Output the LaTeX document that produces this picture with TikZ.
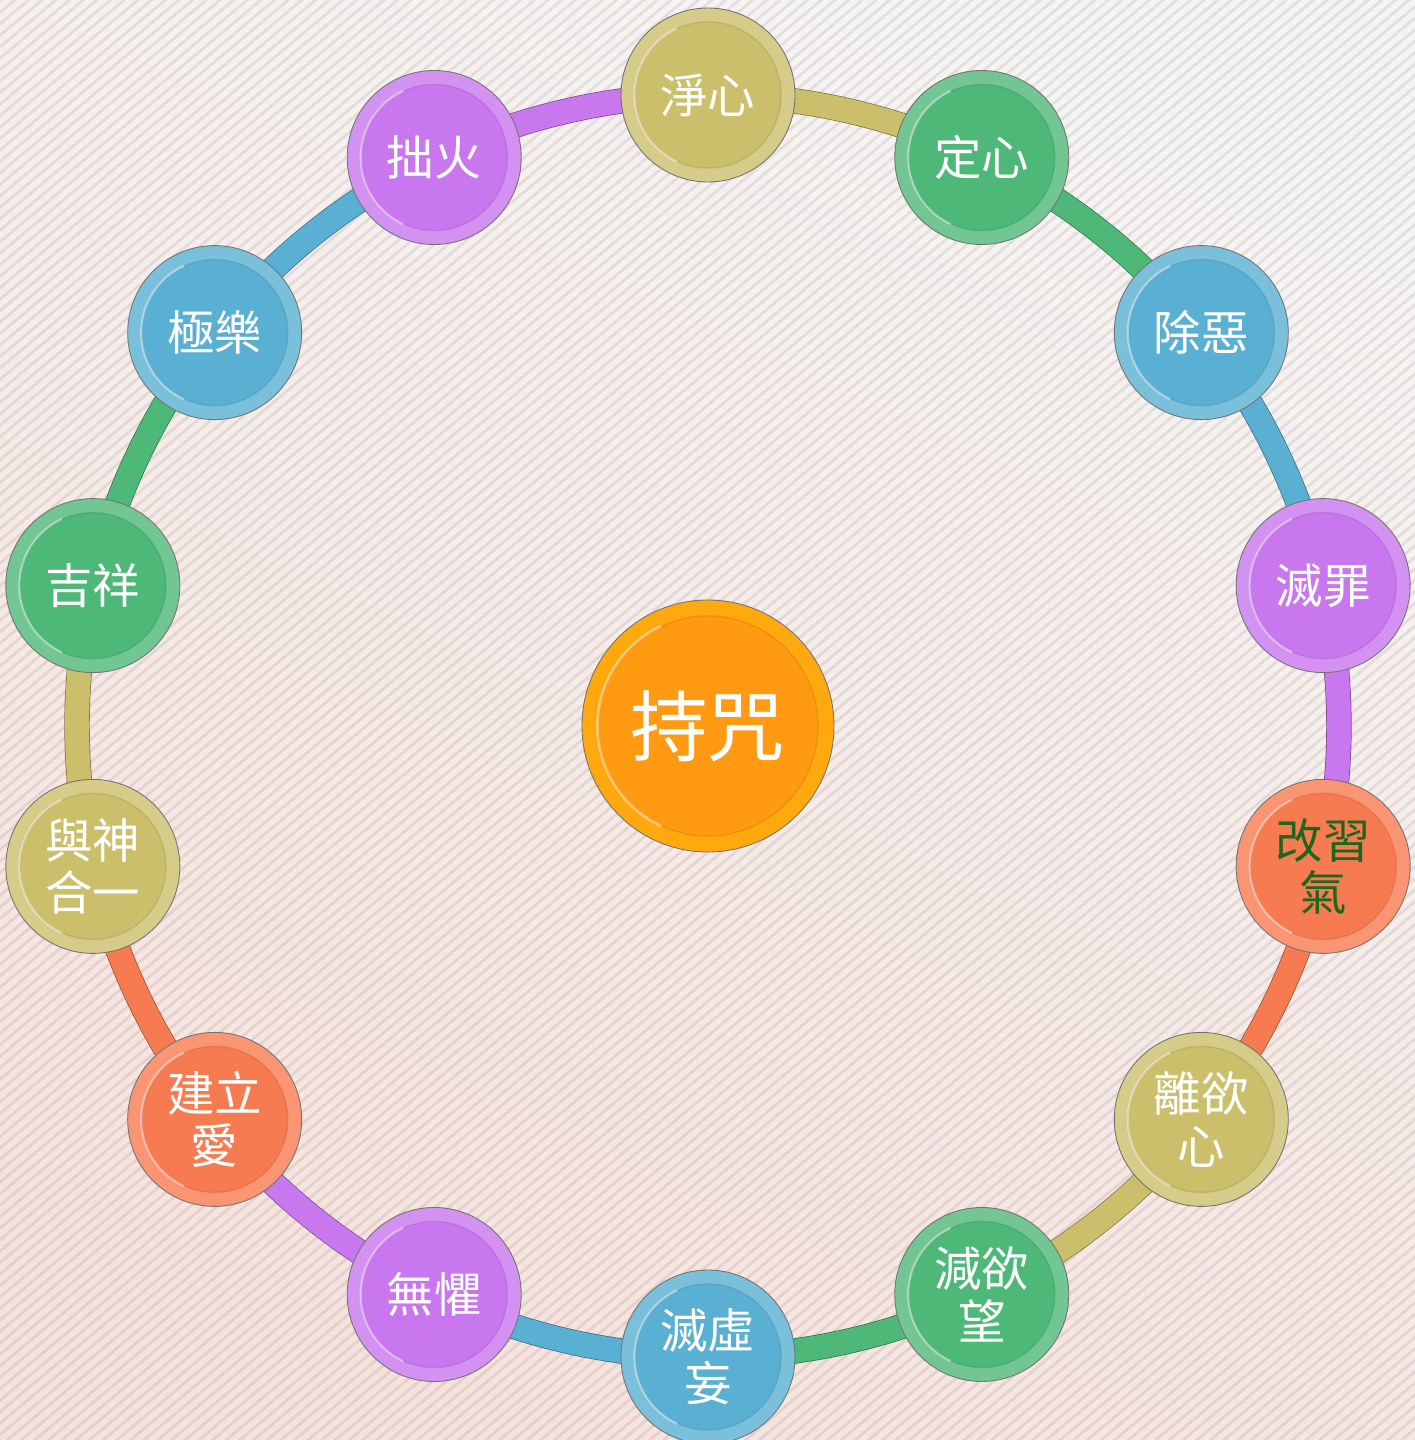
\documentclass[tikz,border=0pt]{standalone}
\usepackage{fontspec}
\newfontfamily\cjk{Noto Sans CJK TC}
\usetikzlibrary{patterns.meta}

\definecolor{khaki}{HTML}{CBBF6C}
\definecolor{leaf}{HTML}{4DB878}
\definecolor{sky}{HTML}{5AB0D2}
\definecolor{lilac}{HTML}{C877EE}
\definecolor{coral}{HTML}{F77B50}
\definecolor{amber}{HTML}{FF9A12}
\definecolor{bgtop}{HTML}{F6F4F3}
\definecolor{bgpink}{HTML}{F6E2DD}
\definecolor{deepgreen}{HTML}{1E661E}

\tikzset{
  ringnode/.style={circle, minimum size=3.48cm, inner sep=0pt, draw=black!55, line width=0.5pt,
    fill=#1!80!white, text=white, align=center, font=\cjk\fontsize{27}{30}\selectfont,
    path picture={
      \fill[#1] (path picture bounding box.center) circle (1.46cm);
      \draw[#1!80!black, opacity=0.4, line width=0.8pt] (path picture bounding box.center) circle (1.46cm);
      \draw[white, opacity=0.45, line width=1.2pt] (path picture bounding box.center) ++(115:1.47cm)
        arc[start angle=115, end angle=245, radius=1.47cm];
    }},
  hubnode/.style={circle, minimum size=5.04cm, inner sep=0pt, draw=black!55, line width=0.5pt,
    fill=#1!85!yellow, text=white, font=\cjk\fontsize{44}{48}\selectfont,
    path picture={
      \fill[#1] (path picture bounding box.center) circle (2.2cm);
      \draw[#1!80!black, opacity=0.4, line width=0.8pt] (path picture bounding box.center) circle (2.2cm);
      \draw[white, opacity=0.45, line width=1.4pt] (path picture bounding box.center) ++(115:2.21cm)
        arc[start angle=115, end angle=245, radius=2.21cm];
    }},
  ringarc/.style={draw=#1!60!black, line width=0.4pt, double=#1, double distance=0.48cm},
}

\begin{document}
\begin{tikzpicture}
  \useasboundingbox (-14.16,-14.28) rectangle (14.14,14.52);
  %% background
  \shade[top color=bgtop, bottom color=bgpink, shading angle=-25] (-14.16,-14.28) rectangle (14.14,14.52);
  \begin{scope}[transparency group, opacity=0.08]
    \fill[pattern={Lines[angle=40, distance=5pt, line width=1.6pt]}, pattern color=black]
      (-14.16,-14.28) rectangle (14.14,14.52);
  \end{scope}

  %% ring of arcs
  \foreach \i/\col in {1/khaki, 2/leaf, 3/sky, 4/lilac, 5/coral, 6/khaki, 7/leaf,
                       8/sky, 9/lilac, 10/coral, 11/khaki, 12/leaf, 13/sky, 14/lilac} {
    \pgfmathsetmacro\a{90-(\i-1)*360/14}
    \coordinate (p\i) at (\a:12.62);
    \draw[ringarc=\col] (p\i) arc[start angle=\a, delta angle=-360/14, radius=12.62];
  }

  %% circles
  \foreach \i/\txt/\col in {1/淨心/khaki, 2/定心/leaf, 3/除惡/sky, 4/滅罪/lilac,
                            6/離欲\\心/khaki, 7/減欲\\望/leaf, 8/滅虛\\妄/sky, 9/無懼/lilac,
                            10/建立\\愛/coral, 11/與神\\合一/khaki, 12/吉祥/leaf, 13/極樂/sky, 14/拙火/lilac} {
    \node[ringnode=\col] (n\i) at (p\i) {\txt};
  }
  \node[ringnode=coral, text=deepgreen] (n5) at (p5) {改習\\氣};  %% dark text on this one

  \node[hubnode=amber] (hub) at (0,0) {持咒};
\end{tikzpicture}
\end{document}
